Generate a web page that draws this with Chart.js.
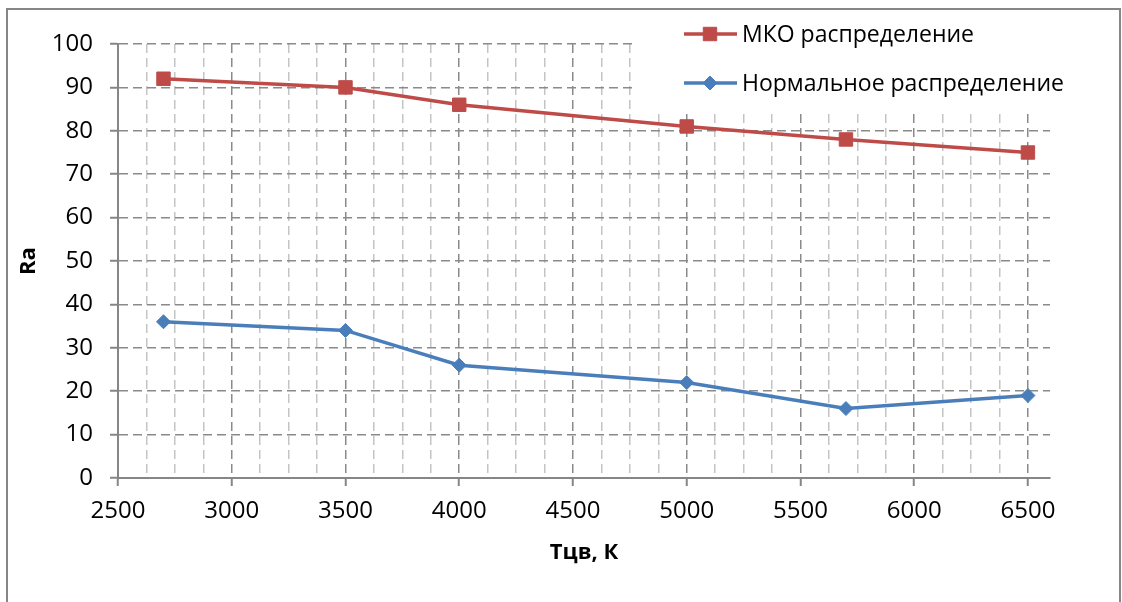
<!DOCTYPE html>
<html>
<head>
<meta charset="utf-8">
<script src="https://cdn.jsdelivr.net/npm/chart.js@4/dist/chart.umd.min.js"></script>
<style>
  html, body { margin: 0; padding: 0; background: #fff; }
  #wrap { width: 1122px; height: 602px; }
</style>
</head>
<body>
<div id="wrap"><canvas id="raChart" width="1122" height="602"></canvas></div>
<script>
// Данные графика
const tcv = [2700, 3500, 4000, 5000, 5700, 6500];     // Тцв, К
const mkoRa = [92, 90, 86, 81, 78, 75];               // МКО распределение
const normalRa = [36, 34, 26, 22, 16, 19];            // Нормальное распределение
const seriesNames = ['МКО распределение', 'Нормальное распределение'];
const xTitle = 'Тцв, К';
const yTitle = 'Ra';

const FONT = "'Open Sans', 'Noto Sans', sans-serif";
const RED = '#BE4B48';
const BLUE = '#4A7EBB';
const AXIS = '#868686';

// рамка диаграммы и легенда на белом фоне, как в Excel
const frameLegend = {
    id: 'frameLegend',
    beforeDraw(chart) {
        const c = chart.ctx;
        c.save();
        c.fillStyle = '#fff';
        c.fillRect(0, 0, chart.width, chart.height);
        c.restore();
    },
    afterDraw(chart) {
        const c = chart.ctx;
        c.save();
        c.strokeStyle = AXIS;
        c.lineWidth = 2;
        c.strokeRect(7, 9, 1113, 640);
        c.fillStyle = '#fff';
        c.fillRect(633, 11, 480, 98);

        chart.data.datasets.forEach((ds, i) => {
            const y = 34 + i * 49;
            c.strokeStyle = ds.borderColor;
            c.lineWidth = 3.5;
            c.setLineDash([]);
            c.beginPath();
            c.moveTo(684, y);
            c.lineTo(737, y);
            c.stroke();
            c.fillStyle = ds.backgroundColor;
            c.strokeStyle = ds.borderColor;
            c.lineWidth = 1;
            Chart.helpers.drawPoint(c, { pointStyle: ds.pointStyle, radius: ds.pointRadius, borderWidth: 1, rotation: 0 }, 710, y);
            c.fillStyle = '#000';
            c.font = '23px ' + FONT;
            c.textBaseline = 'middle';
            c.textAlign = 'left';
            c.fillText(ds.label, 742, y + 1);
        });
        c.restore();
    }
};

const ctx = document.getElementById('raChart').getContext('2d');
new Chart(ctx, {
    type: 'line',
    data: {
        datasets: [
            {
                label: seriesNames[0],
                data: tcv.map((x, i) => ({ x: x, y: mkoRa[i] })),
                borderColor: RED,
                backgroundColor: RED,
                borderWidth: 3.5,
                pointStyle: 'rect',
                pointRadius: 9.5,
                pointHoverRadius: 9.5,
                pointBorderWidth: 1,
                tension: 0,
                fill: false
            },
            {
                label: seriesNames[1],
                data: tcv.map((x, i) => ({ x: x, y: normalRa[i] })),
                borderColor: BLUE,
                backgroundColor: BLUE,
                borderWidth: 3.5,
                pointStyle: 'rectRot',
                pointRadius: 7,
                pointHoverRadius: 7,
                pointBorderWidth: 1,
                tension: 0,
                fill: false
            }
        ]
    },
    options: {
        responsive: false,
        animation: false,
        layout: { padding: { left: 16, top: 44, right: 72, bottom: 36 } },
        plugins: {
            legend: { display: false },
            tooltip: { enabled: false }
        },
        scales: {
            x: {
                type: 'linear',
                min: 2500,
                max: 6597,
                afterBuildTicks: s => { s.ticks = s.ticks.filter(t => t.value <= 6500); },
                afterFit: s => { s.height = 88; },
                ticks: {
                    stepSize: 125,
                    includeBounds: false,
                    autoSkip: false,
                    maxRotation: 0,
                    padding: 11,
                    color: '#000',
                    font: { family: FONT, size: 24 },
                    callback: v => (v % 500 === 0 ? v : '')
                },
                grid: {
                    color: c => (c.tick && c.tick.value % 500 === 0 ? '#8a8a8a' : '#c4c4c4'),
                    tickColor: c => (c.tick && c.tick.value % 500 === 0 ? AXIS : 'rgba(0,0,0,0)'),
                    lineWidth: 1.5,
                    tickLength: 8,
                    tickWidth: 2,
                    tickBorderDash: []
                },
                border: { color: AXIS, width: 2, dash: [9, 5] },
                title: {
                    display: true,
                    text: xTitle,
                    color: '#000',
                    padding: 0,
                    font: { family: FONT, size: 22, weight: 'bold' }
                }
            },
            y: {
                min: 0,
                max: 100,
                afterFit: s => { s.width = 102; },
                ticks: {
                    stepSize: 10,
                    padding: 17,
                    color: '#000',
                    font: { family: FONT, size: 24 }
                },
                grid: {
                    color: '#8a8a8a',
                    tickColor: AXIS,
                    lineWidth: 1.5,
                    tickLength: 8,
                    tickWidth: 2,
                    tickBorderDash: []
                },
                border: { color: AXIS, width: 2, dash: [9, 5] },
                title: {
                    display: true,
                    text: yTitle,
                    color: '#000',
                    padding: 0,
                    font: { family: FONT, size: 22, weight: 'bold' }
                }
            }
        }
    },
    plugins: [frameLegend]
});
</script>
</body>
</html>
